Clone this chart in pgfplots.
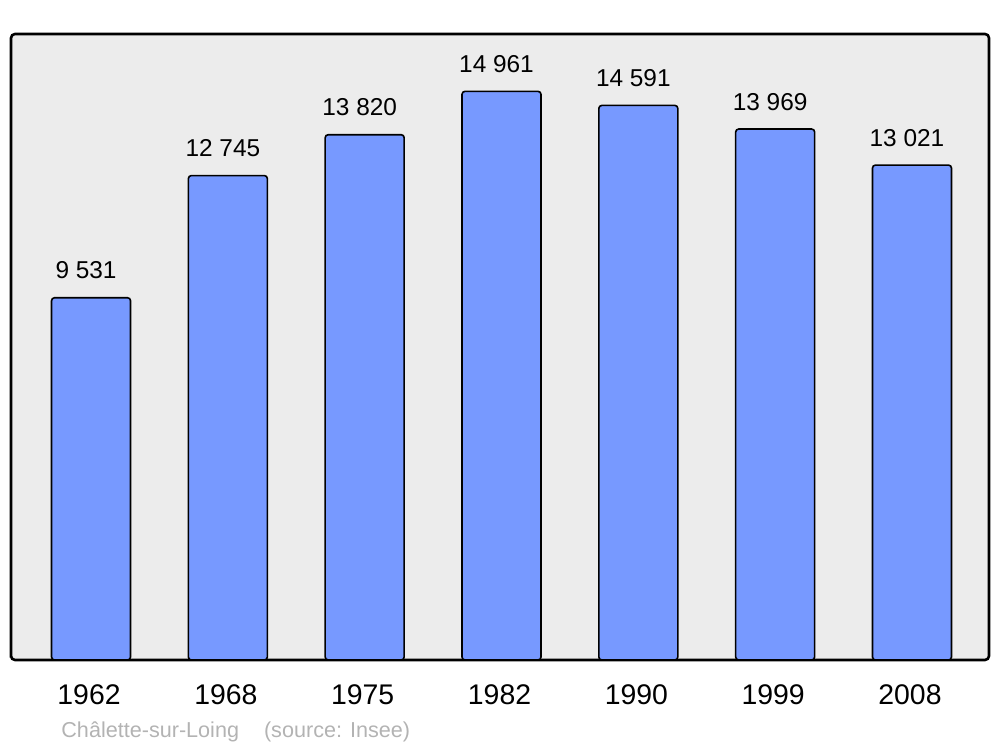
\documentclass[border=0pt]{standalone}
\usepackage{pgfplots}
\pgfplotsset{compat=1.18}
\usepackage{fontspec}
\setmainfont{Liberation Sans}
\definecolor{bg}{HTML}{ECECEC}
\definecolor{barblue}{HTML}{7799FF}
\definecolor{foot}{HTML}{B3B3B3}
\begin{document}
\begin{tikzpicture}
\useasboundingbox (0,0) rectangle (500pt,373.5pt);
\begin{axis}[
  at={(5.5pt,43.5pt)}, anchor=south west,
  scale only axis, width=489pt, height=313pt,
  xmin=-0.585, xmax=6.563, ymin=0, ymax=16470,
  axis background/.style={fill=bg},
  axis line style={line width=1.3pt, rounded corners=2pt},
  ytick=\empty,
  xtick={0,1,2,3,4,5,6},
  xticklabels={1962,1968,1975,1982,1990,1999,2008},
  major tick length=0pt,
  xticklabel style={font=\fontsize{14.2pt}{16pt}\selectfont, anchor=base, yshift=-22.5pt, xshift=-1pt},
  /pgf/number format/.cd, 1000 sep={\ }, assume math mode=true, /pgfplots/.cd,
  ybar, bar width=39.5pt,
  nodes near coords,
  every node near coord/.append style={font=\fontsize{12.2pt}{14pt}\selectfont, anchor=base, yshift=9.5pt, xshift=-2.5pt, text=black},
  clip=false,
]
\addplot[fill=barblue, draw=black, line width=0.8pt, rounded corners=1.5pt] coordinates {
(0,9531) (1,12745) (2,13820) (3,14961) (4,14591) (5,13969) (6,13021)};
\end{axis}
\node[anchor=base west, text=foot, font=\fontsize{10.8pt}{12pt}\selectfont, inner sep=0pt] at (30.5pt,4.5pt) {Châlette-sur-Loing\hspace{12.5pt}(source: Insee)};
\end{tikzpicture}
\end{document}
